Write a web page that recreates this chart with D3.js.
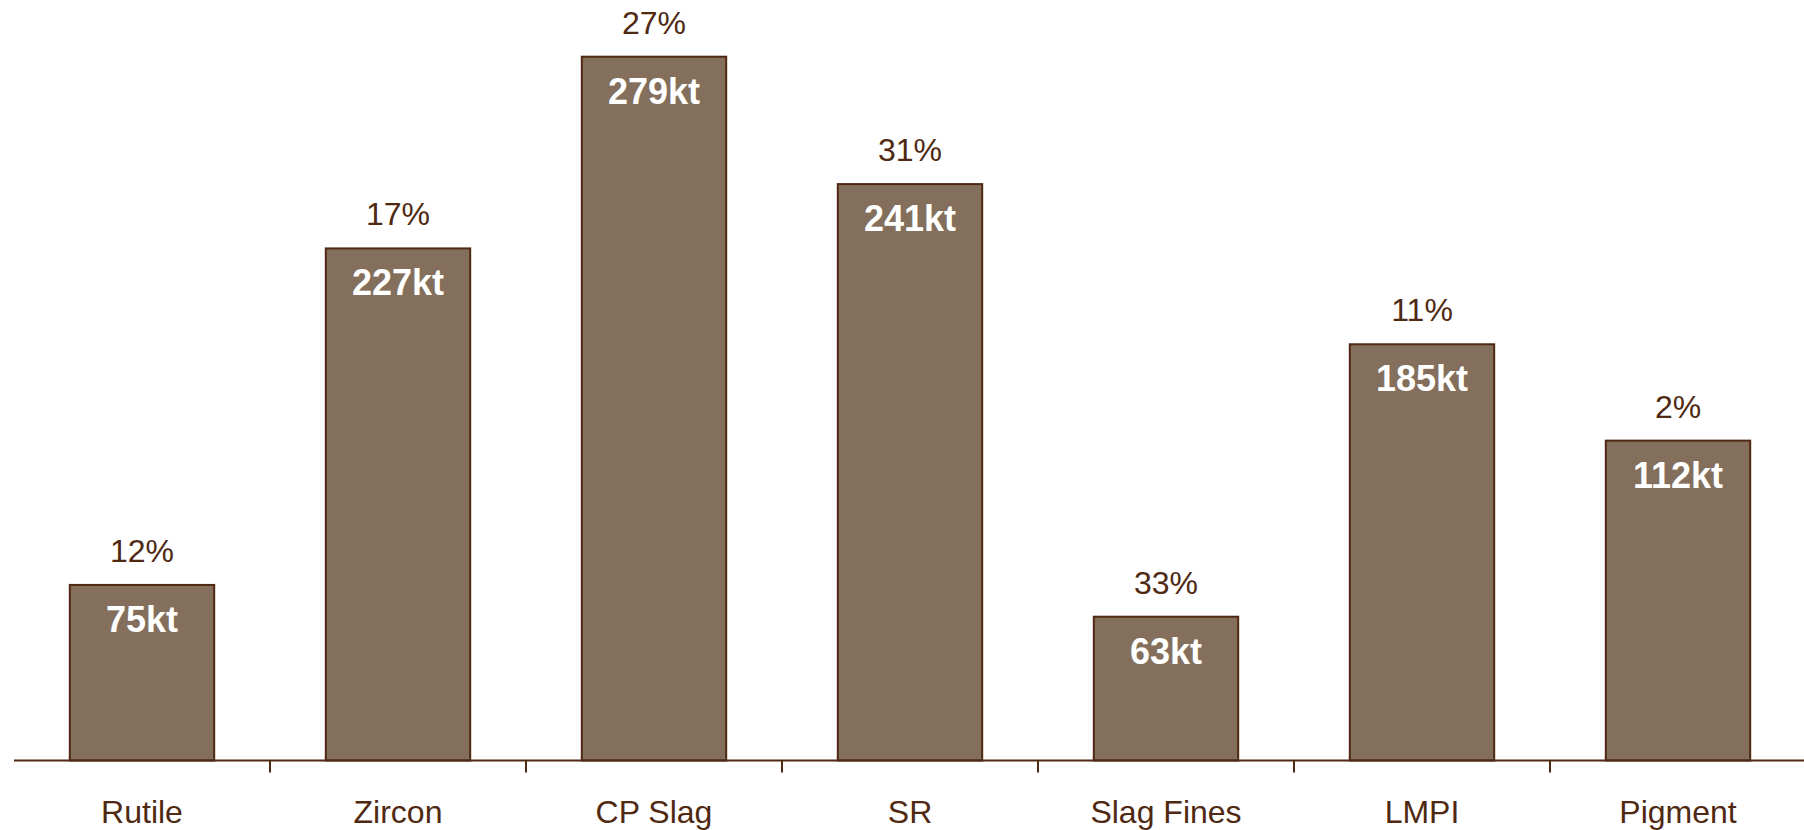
<!DOCTYPE html>
<html lang="en">
<head>
<meta charset="utf-8">
<title>Volumes by product</title>
<script src="https://cdn.jsdelivr.net/npm/d3@7/dist/d3.min.js"></script>
<style>
  html, body { margin: 0; padding: 0; background: #fff; }
  svg { display: block; font-family: "Liberation Sans", Arial, sans-serif; }
</style>
</head>
<body>
<div id="chart"></div>
<script>
// data
var categories = ["Rutile", "Zircon", "CP Slag", "SR", "Slag Fines", "LMPI", "Pigment"];
var volumes = [75, 227, 279, 241, 63, 185, 112];          // kt, label inside bar
var shares = [12, 17, 27, 31, 33, 11, 2];                  // %, label above bar
// bar heights as drawn (not proportional to the kt labels in the original)
var barHeights = [69.6, 203, 279, 228.5, 57, 165, 126.8];

var width = 1804,
    height = 830;

var brown = "#4f2912",
    fill = "#836f5b";

var svg = d3.select("#chart").append("svg")
    .attr("width", width)
    .attr("height", height);

var x = d3.scaleBand()
    .domain(categories)
    .range([14, 1806])
    .paddingInner(0.436)
    .paddingOuter(0.218);

var y = d3.scaleLinear()
    .domain([0, 279])
    .range([760.5, 56.7]);

var rows = categories.map(function (c, i) {
  return {cat: c, vol: volumes[i], pct: shares[i], h: barHeights[i]};
});

// bars
svg.append("g").selectAll("rect")
    .data(rows)
    .enter().append("rect")
    .attr("x", function (d) { return x(d.cat); })
    .attr("y", function (d) { return y(d.h); })
    .attr("width", x.bandwidth())
    .attr("height", function (d) { return y(0) - y(d.h); })
    .attr("fill", fill)
    .attr("stroke", brown)
    .attr("stroke-width", 2);

// kt labels inside bars
svg.append("g").selectAll("text")
    .data(rows)
    .enter().append("text")
    .attr("x", function (d) { return x(d.cat) + x.bandwidth() / 2; })
    .attr("y", function (d) { return y(d.h) + 47; })
    .attr("text-anchor", "middle")
    .attr("fill", "#fff")
    .style("font-size", "36px")
    .style("font-weight", "bold")
    .text(function (d) { return d.vol + "kt"; });

// % labels above bars
svg.append("g").selectAll("text")
    .data(rows)
    .enter().append("text")
    .attr("x", function (d) { return x(d.cat) + x.bandwidth() / 2; })
    .attr("y", function (d) { return y(d.h) - 23; })
    .attr("text-anchor", "middle")
    .attr("fill", brown)
    .style("font-size", "32px")
    .text(function (d) { return d.pct + "%"; });

// category axis
var axis = svg.append("g")
    .attr("transform", "translate(0," + y(0) + ")")
    .call(d3.axisBottom(x).tickSize(0).tickPadding(40));

axis.select(".domain")
    .attr("d", "M14,0H" + width)
    .attr("stroke", brown)
    .attr("stroke-width", 2);

axis.selectAll("text")
    .attr("fill", brown)
    .style("font-size", "32px")
    .style("font-family", "'Liberation Sans', Arial, sans-serif");

// ticks between categories
axis.selectAll(".sep")
    .data(categories.slice(1))
    .enter().append("line")
    .attr("class", "sep")
    .attr("x1", function (d) { return x(d) - x.step() * x.paddingInner() / 2; })
    .attr("x2", function (d) { return x(d) - x.step() * x.paddingInner() / 2; })
    .attr("y1", 0)
    .attr("y2", 12)
    .attr("stroke", brown)
    .attr("stroke-width", 2);
</script>
</body>
</html>
